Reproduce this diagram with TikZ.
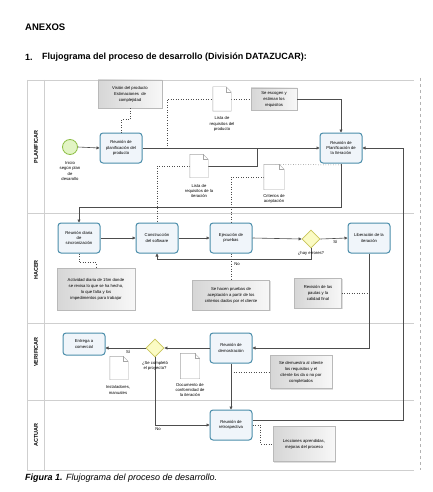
\documentclass[tikz,border=0pt]{standalone}
\usepackage{fontspec}
\setmainfont{Liberation Sans}
\usetikzlibrary{arrows.meta,shapes.geometric,shadows,calc}
\definecolor{taskblue}{HTML}{4A8DAA}
\definecolor{taskfill}{HTML}{F0F5FA}
\definecolor{laneline}{HTML}{CFCFCF}
\definecolor{flowc}{HTML}{4D4D4D}
\definecolor{gwfill}{HTML}{FBFBC4}
\definecolor{gwdraw}{HTML}{C9C45A}
\definecolor{stfill}{HTML}{E2F4C4}
\definecolor{stdraw}{HTML}{8DBF45}
\newcommand\bxf{\fontsize{4.2}{5.4}\selectfont}
\newcommand\anf{\fontsize{4.2}{6}\selectfont}
\newcommand\drawdoc[1]{%
  \filldraw[fill=white, draw=gray!70, line width=0.4pt] (#1.north west) -- ([xshift=-5pt]#1.north east) -- ([yshift=-5pt]#1.north east) -- (#1.south east) -- (#1.south west) -- cycle;
  \draw[draw=gray!70, line width=0.4pt] ([xshift=-5pt]#1.north east) |- ([yshift=-5pt]#1.north east);}
\begin{document}
\begin{tikzpicture}[x=1pt,y=-1pt,
  task/.style={draw=taskblue, line width=1pt, rounded corners=3pt, fill=taskfill, minimum width=42pt, minimum height=30pt, inner sep=1pt, align=center, font=\bxf},
  annot/.style={draw=gray!55, line width=0.4pt, left color=gray!32, right color=gray!6, drop shadow={shadow xshift=1pt, shadow yshift=-1pt, opacity=0.25}, inner sep=1pt, align=center, font=\anf},
  docn/.style={minimum width=18pt, minimum height=24pt, inner sep=0pt},
  lbl/.style={align=center, font=\bxf, inner sep=0pt},
  flow/.style={draw=flowc, line width=0.6pt, -{Triangle[length=3pt,width=3pt]}},
  thinline/.style={draw=flowc, line width=0.5pt},
  assoc/.style={draw=flowc, line width=0.5pt, dotted},
  gw/.style={diamond, draw=gwdraw, fill=gwfill, line width=0.8pt, minimum width=18pt, minimum height=18pt, inner sep=0pt},
  startev/.style={circle, draw=stdraw, fill=stfill, line width=0.8pt, minimum size=15pt, inner sep=0pt},
  lane/.style={draw=laneline, line width=0.5pt},
  lanelbl/.style={rotate=90, font=\bfseries\fontsize{5.5}{6}\selectfont, inner sep=0pt}
]
\useasboundingbox[fill=white] (0,0) rectangle (432,492);

% titles
\node[anchor=west, font=\bfseries\fontsize{9.5}{10}\selectfont, inner sep=0pt] (anexos) at (25,27) {ANEXOS};
\node[anchor=west, font=\bfseries\fontsize{9}{10}\selectfont, inner sep=0pt] (num) at (25,57) {1.};
\node[anchor=west, font=\bfseries\fontsize{9}{10}\selectfont, inner sep=0pt] (title) at (42,57) {Flujograma del proceso de desarrollo (División DATAZUCAR):};

% pool and lanes
\foreach \yy in {80,213,323,400,470} \draw[lane] (27,\yy) -- (414,\yy);
\draw[lane] (27,80) -- (27,470);
\draw[lane] (44,80) -- (44,470);
\draw[draw=gray!60, line width=0.6pt, dashed] (420,78) -- (420,470);
\node[lanelbl] (lp) at (36,147) {PLANIFICAR};
\node[lanelbl] (lh) at (36,270) {HACER};
\node[lanelbl] (lv) at (36,352) {VERIFICAR};
\node[lanelbl] (la) at (36,435) {ACTUAR};

% PLANIFICAR
\node[startev] (st) at (70,147) {};
\node[lbl] (stl) at (70,171) {Inicio\\según plan\\de\\desarollo};
\node[task] (t1) at (121,148) {Reunión de\\planificación del\\producto};
\node[annot, minimum width=64pt, minimum height=28pt] (a1) at (130,94) {Visión del producto\\Estimaciones\ \ de\\complejidad};
\node[docn] (d1) at (222,99) {};
\node[lbl] (d1l) at (222,124) {Lista de\\requisitos del\\producto};
\node[annot, minimum width=46pt, minimum height=22pt] (a2) at (274,99) {Se escogen y\\estiman los\\requisitos};
\node[task] (t2) at (341,148) {Reunión de\\Planificación de\\la Iteración};
\node[docn, minimum width=18pt, minimum height=23pt] (d2) at (199,166) {};
\node[lbl] (d2l) at (199,191) {Lista de\\requisitos de la\\iteración};
\node[docn, minimum width=20pt, minimum height=25pt] (d3) at (274,177) {};
\node[lbl] (d3l) at (274,199) {Criterios de\\aceptación};

% HACER
\node[task] (t3) at (79,238) {Reunión diaria\\de\\sincronización};
\node[task] (t4) at (157,238) {Construcción\\del software};
\node[task] (t5) at (231,238) {Ejecución de\\pruebas};
\node[gw] (g1) at (311,239) {};
\node[task] (t6) at (369,238) {Liberación de la\\iteración};
\node[annot, minimum width=78pt, minimum height=42pt] (a3) at (96,289) {Actividad diaria de 15m donde\\se revisa lo que se ha hecho,\\lo que falta y los\\impedimentos para trabajar};
\node[annot, minimum width=77pt, minimum height=30pt] (a4) at (231,295) {Se hacen pruebas de\\aceptación a partir de los\\criterios dados por el cliente};
\node[annot, minimum width=47pt, minimum height=30pt] (a5) at (318,293) {Revisión de las\\pautas y la\\calidad final};

% VERIFICAR
\node[task] (t7) at (231,348) {Reunión de\\demostración};
\node[gw] (g2) at (155,348) {};
\node[task, minimum height=22pt] (t8) at (84,344) {Entrega a\\comercial};
\node[docn, minimum width=18pt, minimum height=23pt] (d4) at (119,368) {};
\node[lbl] (d4l) at (118,390) {Instaladores,\\manuales};
\node[docn, minimum width=19pt, minimum height=25pt] (d5) at (190,366) {};
\node[lbl] (d5l) at (190,390) {Documento de\\conformidad de\\la iteración};
\node[annot, minimum width=62pt, minimum height=33pt] (a6) at (301,372) {Se demuestra al cliente\\los requisitos y el\\cliente los da o no por\\completados};

% ACTUAR
\node[task] (t9) at (231,425) {Reunión de\\retrospectiva};
\node[annot, minimum width=62pt, minimum height=35pt] (a7) at (304,444) {Lecciones aprendidas,\\mejoras del proceso};

% connectors
\draw[flow] (st.east) -- (t1.west);
\draw[assoc] (t1.north) -- ++(0,-13) -| (a1.south);
\draw[flow] (t1.east) -- (t2.west);
\coordinate (j1) at (167,148);
\draw[assoc] (j1) |- (d1.west);
\draw[assoc] (d1.east) -- (a2.west);
\draw[flow] (a2.east) -| (t2.north);
\coordinate (j2) at (257,148);
\draw[thinline] (j2) |- (d2.east);
\draw[assoc] (d2.west) -| (t4.north);
\coordinate (j3) at (341,165);
\draw[assoc] (j3) -- (d3.north);
\draw[assoc] (d3.west) -| (t5.north);
\draw[flow] (t2.south) -- ++(0,44) -| (t3.north);
\draw[flow] (t3.east) -- (t4.west);
\draw[flow] (t4.east) -- (t5.west);
\draw[flow] (t5.east) -- (g1.west);
\draw[flow] (g1.east) -- node[lbl, below=2pt, pos=0.55] (si1) {Sí} (t6.west);
\draw[flow] (g1.south) -- ++(0,11) -| (t4.south);
\node[lbl] (g1l) at (311,253) {¿hay errores?};
\node[lbl] (no1) at (237,264) {No};
\draw[assoc] (t3.south) -- ++(0,9) -| (a3.north);
\draw[assoc] (t5.south) -- (a4.north);
\draw[flow] (t6.south) |- (t7.east);
\draw[assoc] (a5.east) -- (a5.east -| t6.south);
\draw[flow] (t7.west) -- (g2.east);
\draw[flow] (g2.west) -- (g2.west -| t8.east);
\node[lbl] (si2) at (128,352) {Sí};
\draw[flow] (g2.south) |- (t9.west);
\node[lbl] (g2l) at (155,366) {¿Se completó\\el proyecto?};
\node[lbl] (no2) at (158,429) {No};
\draw[flow] (t7.south) -- (t9.north);
\coordinate (j4) at (231,372);
\draw[assoc] (j4) -- (a6.west);
\draw[flow] ([yshift=5pt]t9.east) -- ++(151,0) |- (t2.east);
\draw[assoc] (t9.east) -- ++(8,0) |- (a7.west);

% documents on top
\drawdoc{d1}
\drawdoc{d2}
\drawdoc{d3}
\drawdoc{d4}
\drawdoc{d5}

% caption
\node[anchor=west, font=\itshape\fontsize{9}{10}\selectfont, inner sep=0pt] (cap) at (25,478) {\textbf{Figura 1.} Flujograma del proceso de desarrollo.};
\end{tikzpicture}
\end{document}
